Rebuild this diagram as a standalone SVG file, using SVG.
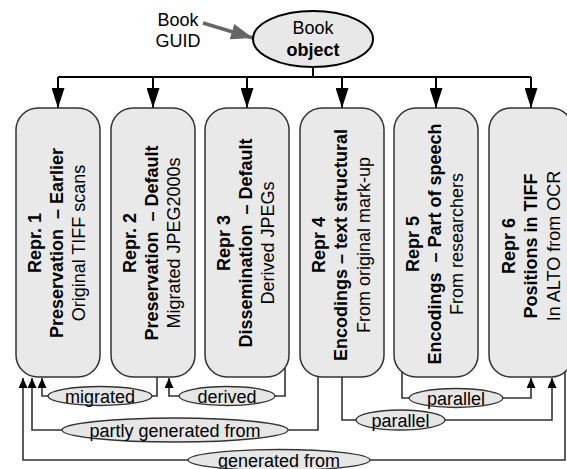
<svg xmlns="http://www.w3.org/2000/svg" width="567" height="469" viewBox="0 0 567 469">
<style>
text{font-family:"Liberation Sans",Arial,sans-serif;font-size:18px;fill:#000}
.b{font-weight:bold}
.box{fill:#e9e9e9;stroke:#333;stroke-width:1.5}
.lbl{fill:#e6e6e6;stroke:#333;stroke-width:1.3}
.tree{fill:none;stroke:#000;stroke-width:2}
.con{fill:none;stroke:#333;stroke-width:1.6}
</style>
<defs>
<marker id="big" markerUnits="userSpaceOnUse" markerWidth="20" markerHeight="13" refX="20" refY="6.5" orient="auto"><path d="M0,0 L20,6.5 L0,13 z" fill="#000"/></marker>
<marker id="sm" markerUnits="userSpaceOnUse" markerWidth="10" markerHeight="9" refX="10" refY="4.5" orient="auto"><path d="M0,0 L10,4.5 L0,9 z" fill="#000"/></marker>
<marker id="gray" markerUnits="userSpaceOnUse" markerWidth="24" markerHeight="16" refX="22" refY="8" orient="auto"><path d="M0,0 L22,8 L0,16 z" fill="#666"/></marker>
</defs>

<g id="connectors">
<path class="tree" d="M313,67 V77 M58,77 H531"/>
<path class="tree" d="M58,77 V108" marker-end="url(#big)"/>
<path class="tree" d="M153,77 V108" marker-end="url(#big)"/>
<path class="tree" d="M247,77 V108" marker-end="url(#big)"/>
<path class="tree" d="M342,77 V108" marker-end="url(#big)"/>
<path class="tree" d="M436,77 V108" marker-end="url(#big)"/>
<path class="tree" d="M531,77 V108" marker-end="url(#big)"/>
<path d="M203,23 L253,38" stroke="#666" stroke-width="3.5" fill="none" marker-end="url(#gray)"/>
<path class="con" d="M157,377 V396 H42 V378" marker-end="url(#sm)"/>
<path class="con" d="M285,368 V396 H169 V378" marker-end="url(#sm)"/>
<path class="con" d="M318,377 V430 H32 V378" marker-end="url(#sm)"/>
<path class="con" d="M402,372 V398 H531 V378" marker-end="url(#sm)"/>
<path class="con" d="M342,377 V420 H552 V378" marker-end="url(#sm)"/>
<path class="con" d="M565,371 V460 H23 V378" marker-end="url(#sm)"/>
</g>

<g id="book-guid">
<text x="178" y="25.5" text-anchor="middle">Book</text>
<text x="178" y="47" text-anchor="middle">GUID</text>
</g>

<g id="book-object">
<ellipse cx="313" cy="39" rx="60" ry="28" fill="#e8e8e8" stroke="#000" stroke-width="2"/>
<text x="313" y="34" text-anchor="middle">Book</text>
<text x="313" y="56" text-anchor="middle" class="b">object</text>
</g>

<g id="repr1">
<rect class="box" x="16" y="108" width="84" height="269" rx="22"/>
<text transform="translate(58,243) rotate(-90)" text-anchor="middle" xml:space="preserve"><tspan x="0" y="-17" class="b">Repr. 1</tspan><tspan x="0" y="5" class="b">Preservation  – Earlier</tspan><tspan x="0" y="27">Original TIFF scans</tspan></text>
</g>
<g id="repr2">
<rect class="box" x="111" y="108" width="84" height="269" rx="22"/>
<text transform="translate(153,243) rotate(-90)" text-anchor="middle" xml:space="preserve"><tspan x="0" y="-17" class="b">Repr. 2</tspan><tspan x="0" y="5" class="b">Preservation  – Default</tspan><tspan x="0" y="27">Migrated JPEG2000s</tspan></text>
</g>
<g id="repr3">
<rect class="box" x="205" y="108" width="84" height="269" rx="22"/>
<text transform="translate(247,243) rotate(-90)" text-anchor="middle" xml:space="preserve"><tspan x="0" y="-17" class="b">Repr 3</tspan><tspan x="0" y="5" class="b">Dissemination  – Default</tspan><tspan x="0" y="27">Derived JPEGs</tspan></text>
</g>
<g id="repr4">
<rect class="box" x="300" y="108" width="84" height="269" rx="22"/>
<text transform="translate(342,245) rotate(-90)" text-anchor="middle" xml:space="preserve"><tspan x="0" y="-17" class="b">Repr 4</tspan><tspan x="0" y="5" class="b">Encodings – text structural</tspan><tspan x="0" y="28">From original mark-up</tspan></text>
</g>
<g id="repr5">
<rect class="box" x="394" y="108" width="84" height="269" rx="22"/>
<text transform="translate(436,244) rotate(-90)" text-anchor="middle" xml:space="preserve"><tspan x="0" y="-17" class="b">Repr 5</tspan><tspan x="0" y="5" class="b">Encodings  – Part of speech</tspan><tspan x="0" y="27">From researchers</tspan></text>
</g>
<g id="repr6">
<rect class="box" x="489" y="108" width="84" height="269" rx="22"/>
<text transform="translate(531,246) rotate(-90)" text-anchor="middle" xml:space="preserve"><tspan x="0" y="-16" class="b">Repr 6</tspan><tspan x="0" y="6" class="b">Positions in TIFF</tspan><tspan x="0" y="29">In ALTO from OCR</tspan></text>
</g>

<g id="lbl-migrated">
<ellipse class="lbl" cx="100" cy="396" rx="52" ry="9.5"/>
<text x="100" y="402.5" text-anchor="middle">migrated</text>
</g>
<g id="lbl-derived">
<ellipse class="lbl" cx="227" cy="396" rx="48" ry="9.5"/>
<text x="227" y="402.5" text-anchor="middle">derived</text>
</g>
<g id="lbl-partly">
<ellipse class="lbl" cx="175" cy="430" rx="113" ry="12"/>
<text x="175" y="436.5" text-anchor="middle">partly generated from</text>
</g>
<g id="lbl-parallel1">
<ellipse class="lbl" cx="456" cy="398" rx="47" ry="9.5"/>
<text x="456" y="404.5" text-anchor="middle">parallel</text>
</g>
<g id="lbl-parallel2">
<ellipse class="lbl" cx="400.5" cy="420" rx="44.5" ry="10"/>
<text x="400.5" y="426.5" text-anchor="middle">parallel</text>
</g>
<g id="lbl-generated">
<ellipse class="lbl" cx="279" cy="460" rx="91" ry="10.5"/>
<text x="279" y="466.5" text-anchor="middle">generated from</text>
</g>
</svg>
